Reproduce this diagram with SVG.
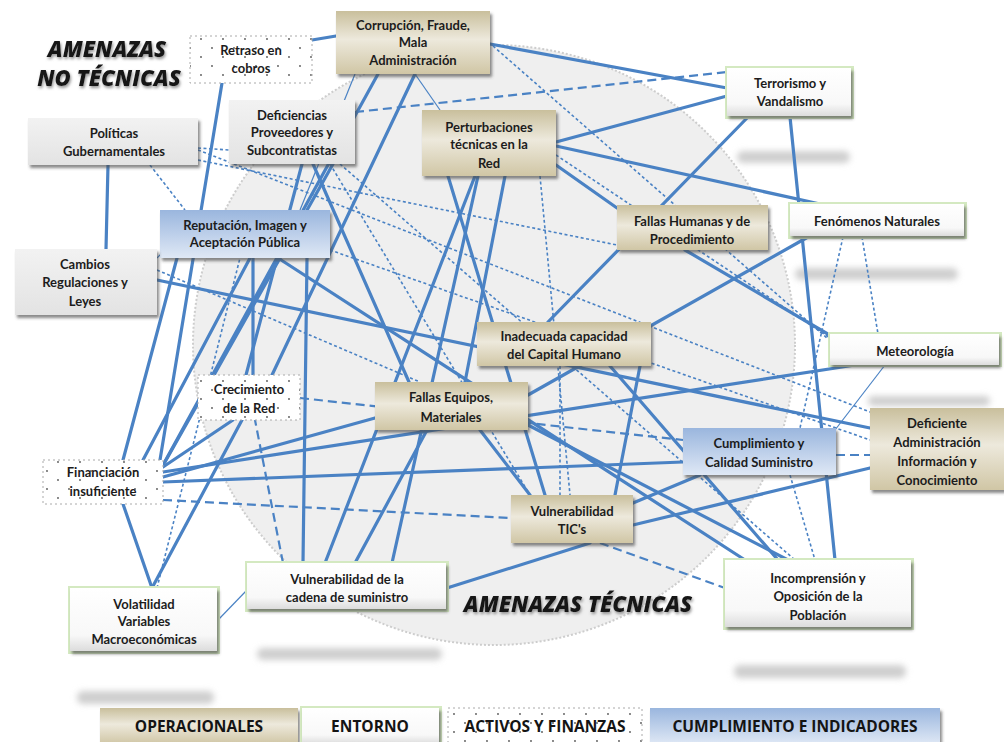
<svg xmlns="http://www.w3.org/2000/svg" width="1004" height="742" viewBox="0 0 1004 742">
<defs>
<linearGradient id="gTan" x1="0" y1="0" x2="0" y2="1">
<stop offset="0" stop-color="#c9bf9c"/><stop offset="0.45" stop-color="#ede9dc"/><stop offset="1" stop-color="#d0c6a5"/>
</linearGradient>
<linearGradient id="gBlue" x1="0" y1="0" x2="0" y2="1">
<stop offset="0" stop-color="#9ab6de"/><stop offset="1" stop-color="#dfe8f5"/>
</linearGradient>
<linearGradient id="gWhite" x1="0" y1="0" x2="0" y2="1">
<stop offset="0" stop-color="#ffffff"/><stop offset="0.75" stop-color="#f8f8f8"/><stop offset="1" stop-color="#dcdcdc"/>
</linearGradient>
<linearGradient id="gGray" x1="0" y1="0" x2="0" y2="1">
<stop offset="0" stop-color="#f2f2f2"/><stop offset="1" stop-color="#e3e3e3"/>
</linearGradient>
<pattern id="dots" width="22" height="18" patternUnits="userSpaceOnUse">
<rect width="22" height="18" fill="#ffffff"/>
<circle cx="3" cy="3" r="0.9" fill="#555"/>
<circle cx="14" cy="12" r="0.9" fill="#555"/>
</pattern>
<filter id="sh" x="-10%" y="-20%" width="125%" height="150%">
<feDropShadow dx="2" dy="3" stdDeviation="1.4" flood-color="#4a4a4a" flood-opacity="0.65"/>
</filter>
<filter id="tsh" x="-10%" y="-30%" width="120%" height="170%">
<feDropShadow dx="1" dy="2" stdDeviation="1.5" flood-color="#777" flood-opacity="0.8"/>
</filter>
<filter id="blur" x="-20%" y="-200%" width="140%" height="500%">
<feGaussianBlur stdDeviation="3"/>
</filter>
<style>
.s{stroke:#4a82c4;stroke-width:3.2;fill:none;stroke-linecap:round}
.t{stroke:#4a82c4;stroke-width:1.2;fill:none}
.d{stroke:#4a82c4;stroke-width:1.6;fill:none;stroke-dasharray:3 2.5}
.D{stroke:#4a82c4;stroke-width:2.2;fill:none;stroke-dasharray:9 5}
.op{fill:url(#gTan);filter:url(#sh)}
.cu{fill:url(#gBlue);filter:url(#sh)}
.gr{fill:url(#gGray);filter:url(#sh)}
.enb{fill:#d4e9c1}
.en{fill:url(#gWhite);filter:url(#sh)}
.af{fill:url(#dots);stroke:#aaa;stroke-width:1;stroke-dasharray:2 3}
.n{font-family:Lato,"Liberation Sans",sans-serif;font-size:13px;font-weight:700;fill:#1c1c1c;text-anchor:middle}
.ti{font-family:"Open Sans",Lato,sans-serif;font-size:22px;font-weight:800;font-style:italic;fill:#141414;text-anchor:middle;filter:url(#tsh)}
.lg{font-family:"Open Sans",Lato,sans-serif;font-size:15.5px;font-weight:700;fill:#141414;text-anchor:middle}
.rf{fill:#cfcfcf;filter:url(#blur)}
</style>
</defs>
<rect width="1004" height="742" fill="#ffffff"/>

<g id="background">
<ellipse cx="494" cy="345" rx="301" ry="300" fill="#efefef" stroke="#cdcdcd" stroke-width="2" stroke-dasharray="2 2"/>
<rect class="rf" x="737" y="151" width="113" height="12" rx="6"/>
<rect class="rf" x="795" y="268" width="163" height="12" rx="6"/>
<rect class="rf" x="868" y="396" width="122" height="10" rx="5"/>
<rect class="rf" x="257" y="648" width="185" height="12" rx="6"/>
<rect class="rf" x="77" y="691" width="137" height="13" rx="6"/>
<rect class="rf" x="734" y="665" width="172" height="13" rx="6"/>
</g>

<g id="connectors">
<line class="s" x1="108" y1="165" x2="106" y2="249"/>
<line class="s" x1="312" y1="40" x2="336" y2="36"/>
<line class="s" x1="222" y1="83" x2="160" y2="460"/>
<line class="s" x1="490" y1="44" x2="727" y2="88"/>
<line class="s" x1="415" y1="74" x2="272" y2="375"/>
<line class="s" x1="378" y1="74" x2="163" y2="465"/>
<line class="s" x1="556" y1="142" x2="727" y2="96"/>
<line class="s" x1="556" y1="146" x2="820" y2="204"/>
<line class="s" x1="556" y1="165" x2="617" y2="208"/>
<line class="s" x1="505" y1="176" x2="465" y2="382"/>
<line class="s" x1="448" y1="176" x2="545" y2="495"/>
<line class="s" x1="748" y1="117" x2="548" y2="322"/>
<line class="s" x1="790" y1="117" x2="835" y2="560"/>
<line class="s" x1="685" y1="250" x2="838" y2="340"/>
<line class="s" x1="808" y1="237" x2="528" y2="395"/>
<line class="s" x1="163" y1="472" x2="855" y2="365"/>
<line class="s" x1="157" y1="280" x2="870" y2="428"/>
<line class="s" x1="633" y1="503" x2="700" y2="475"/>
<line class="s" x1="633" y1="525" x2="870" y2="468"/>
<line class="s" x1="610" y1="366" x2="778" y2="560"/>
<line class="s" x1="528" y1="425" x2="788" y2="560"/>
<line class="s" x1="278" y1="258" x2="745" y2="560"/>
<line class="s" x1="640" y1="366" x2="615" y2="495"/>
<line class="s" x1="313" y1="164" x2="409" y2="382"/>
<line class="s" x1="302" y1="164" x2="246" y2="375"/>
<line class="s" x1="333" y1="164" x2="165" y2="462"/>
<line class="s" x1="307" y1="258" x2="303" y2="563"/>
<line class="s" x1="253" y1="258" x2="253" y2="375"/>
<line class="s" x1="177" y1="258" x2="123" y2="460"/>
<line class="s" x1="250" y1="258" x2="143" y2="460"/>
<line class="s" x1="163" y1="467" x2="233" y2="420"/>
<line class="s" x1="163" y1="477" x2="375" y2="418"/>
<line class="s" x1="163" y1="482" x2="683" y2="462"/>
<line class="s" x1="123" y1="504" x2="152" y2="588"/>
<line class="s" x1="152" y1="588" x2="242" y2="420"/>
<line class="t" x1="218" y1="620" x2="247" y2="590"/>
<line class="s" x1="447" y1="588" x2="590" y2="543"/>
<line class="s" x1="325" y1="563" x2="475" y2="176"/>
<line class="s" x1="355" y1="563" x2="427" y2="430"/>
<line class="s" x1="478" y1="176" x2="392" y2="563"/>
<line class="s" x1="480" y1="430" x2="530" y2="495"/>
<line class="D" x1="355" y1="112" x2="727" y2="72"/>
<line class="d" x1="493" y1="46" x2="835" y2="345"/>
<line class="t" x1="415" y1="74" x2="440" y2="110"/>
<line class="t" x1="355" y1="74" x2="300" y2="210"/>
<line class="d" x1="556" y1="155" x2="830" y2="338"/>
<line class="d" x1="540" y1="176" x2="570" y2="495"/>
<line class="d" x1="843" y1="237" x2="800" y2="428"/>
<line class="d" x1="862" y1="237" x2="878" y2="334"/>
<line class="t" x1="885" y1="365" x2="835" y2="430"/>
<line class="d" x1="198" y1="150" x2="870" y2="412"/>
<line class="D" x1="836" y1="455" x2="870" y2="455"/>
<line class="D" x1="600" y1="543" x2="725" y2="588"/>
<line class="d" x1="340" y1="164" x2="795" y2="560"/>
<line class="d" x1="198" y1="148" x2="229" y2="150"/>
<line class="d" x1="150" y1="165" x2="185" y2="210"/>
<line class="t" x1="157" y1="258" x2="175" y2="240"/>
<line class="d" x1="157" y1="270" x2="420" y2="382"/>
<line class="d" x1="330" y1="250" x2="870" y2="440"/>
<line class="D" x1="300" y1="398" x2="683" y2="440"/>
<line class="D" x1="163" y1="500" x2="511" y2="518"/>
<line class="d" x1="157" y1="588" x2="240" y2="258"/>
<line class="D" x1="283" y1="563" x2="255" y2="420"/>
<line class="d" x1="790" y1="475" x2="815" y2="560"/>
<line class="d" x1="560" y1="366" x2="560" y2="495"/>
<line class="d" x1="330" y1="164" x2="530" y2="495"/>
<line class="d" x1="198" y1="160" x2="617" y2="245"/>
</g>

<g id="titles">
<text class="ti" x="107" y="57">AMENAZAS</text>
<text class="ti" x="109" y="86">NO TÉCNICAS</text>
<text class="ti" x="578" y="612">AMENAZAS TÉCNICAS</text>
</g>

<g id="n-retraso"><rect class="af" x="190" y="36" width="122" height="47"/><text class="n" x="251" y="55">Retraso en</text><text class="n" x="251" y="73">cobros</text></g>
<g id="n-corrupcion"><rect class="op" x="336" y="11" width="154" height="63"/><text class="n" x="413" y="30">Corrupción, Fraude,</text><text class="n" x="413" y="47">Mala</text><text class="n" x="413" y="65">Administración</text></g>
<g id="n-terrorismo"><rect class="enb" x="725" y="66" width="129" height="53"/><rect class="en" x="727" y="68" width="124" height="48"/><text class="n" x="790" y="88">Terrorismo y</text><text class="n" x="790" y="106">Vandalismo</text></g>
<g id="n-deficiencias"><rect class="gr" x="229" y="100" width="126" height="64"/><text class="n" x="292" y="120">Deficiencias</text><text class="n" x="292" y="137">Proveedores y</text><text class="n" x="292" y="155">Subcontratistas</text></g>
<g id="n-perturbaciones"><rect class="op" x="422" y="110" width="134" height="66"/><text class="n" x="489" y="132">Perturbaciones</text><text class="n" x="489" y="149">técnicas en la</text><text class="n" x="489" y="168">Red</text></g>
<g id="n-politicas"><rect class="gr" x="28" y="118" width="170" height="47"/><text class="n" x="114" y="138">Políticas</text><text class="n" x="114" y="156">Gubernamentales</text></g>
<g id="n-fallas-humanas"><rect class="op" x="617" y="205" width="151" height="45"/><text class="n" x="692" y="226">Fallas Humanas y de</text><text class="n" x="692" y="244">Procedimiento</text></g>
<g id="n-fenomenos"><rect class="enb" x="788" y="202" width="179" height="37"/><rect class="en" x="790" y="204" width="174" height="32"/><text class="n" x="877" y="226">Fenómenos Naturales</text></g>
<g id="n-reputacion"><rect class="cu" x="160" y="210" width="170" height="48"/><text class="n" x="245" y="230">Reputación, Imagen y</text><text class="n" x="245" y="247">Aceptación Pública</text></g>
<g id="n-cambios"><rect class="gr" x="15" y="249" width="142" height="66"/><text class="n" x="85" y="269">Cambios</text><text class="n" x="85" y="287">Regulaciones y</text><text class="n" x="85" y="306">Leyes</text></g>
<g id="n-inadecuada"><rect class="op" x="477" y="322" width="174" height="44"/><text class="n" x="564" y="341">Inadecuada capacidad</text><text class="n" x="564" y="359">del Capital Humano</text></g>
<g id="n-meteorologia"><rect class="enb" x="828" y="332" width="174" height="35"/><rect class="en" x="830" y="334" width="169" height="31"/><text class="n" x="915" y="356">Meteorología</text></g>
<g id="n-crecimiento"><rect class="af" x="198" y="375" width="102" height="45"/><text class="n" x="249" y="394">Crecimiento</text><text class="n" x="249" y="413">de la Red</text></g>
<g id="n-fallas-equipos"><rect class="op" x="375" y="382" width="153" height="48"/><text class="n" x="451" y="402">Fallas Equipos,</text><text class="n" x="451" y="422">Materiales</text></g>
<g id="n-deficiente"><rect class="op" x="870" y="408" width="134" height="82"/><text class="n" x="937" y="428">Deficiente</text><text class="n" x="937" y="447">Administración</text><text class="n" x="937" y="466">Información y</text><text class="n" x="937" y="485">Conocimiento</text></g>
<g id="n-cumplimiento"><rect class="cu" x="683" y="428" width="153" height="47"/><text class="n" x="759" y="448">Cumplimiento y</text><text class="n" x="759" y="467">Calidad Suministro</text></g>
<g id="n-financiacion"><rect class="af" x="43" y="460" width="120" height="44"/><text class="n" x="103" y="477">Financiación</text><text class="n" x="103" y="496">insuficiente</text></g>
<g id="n-vuln-tic"><rect class="op" x="511" y="495" width="122" height="48"/><text class="n" x="572" y="516">Vulnerabilidad</text><text class="n" x="572" y="534">TIC's</text></g>
<g id="n-vuln-cadena"><rect class="enb" x="245" y="561" width="204" height="51"/><rect class="en" x="247" y="563" width="199" height="46"/><text class="n" x="347" y="584">Vulnerabilidad de la</text><text class="n" x="347" y="602">cadena de suministro</text></g>
<g id="n-incomprension"><rect class="enb" x="723" y="558" width="191" height="72"/><rect class="en" x="725" y="560" width="186" height="67"/><text class="n" x="818" y="583">Incomprensión y</text><text class="n" x="818" y="601">Oposición de la</text><text class="n" x="818" y="620">Población</text></g>
<g id="n-volatilidad"><rect class="enb" x="68" y="586" width="152" height="68"/><rect class="en" x="70" y="588" width="147" height="63"/><text class="n" x="144" y="609">Volatilidad</text><text class="n" x="144" y="626">Variables</text><text class="n" x="144" y="644">Macroeconómicas</text></g>

<g id="legend">
<rect class="op" x="100" y="708" width="198" height="36"/><text class="lg" x="199" y="732">OPERACIONALES</text>
<rect class="enb" x="300" y="706" width="142" height="38"/><rect class="en" x="302" y="708" width="137" height="36"/><text class="lg" x="370" y="732">ENTORNO</text>
<rect class="af" x="448" y="708" width="194" height="36"/><text class="lg" x="545" y="732">ACTIVOS Y FINANZAS</text>
<rect class="cu" x="650" y="708" width="290" height="36"/><text class="lg" x="795" y="732">CUMPLIMIENTO E INDICADORES</text>
</g>
</svg>
